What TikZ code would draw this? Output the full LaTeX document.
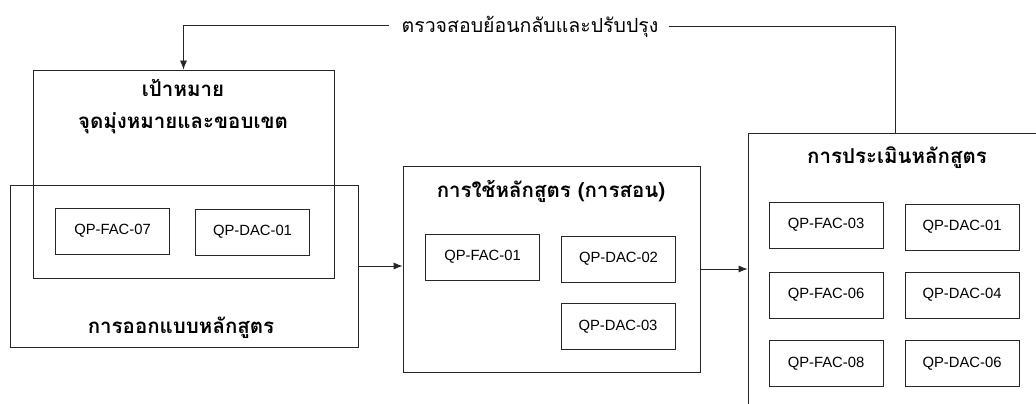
\documentclass[tikz,border=0pt]{standalone}
\usepackage{fontspec}
\setmainfont{Liberation Sans}
\newfontfamily\thaifont[Script=Thai]{Loma}
\usetikzlibrary{arrows.meta}
\begin{document}
\begin{tikzpicture}[x=1pt,y=-1pt,
  frame/.style={draw=black!85,line width=0.8pt,inner sep=0pt},
  qp/.style={draw=black!85,line width=0.8pt,minimum width=114pt,minimum height=46pt,inner sep=0pt,font=\fontsize{14.8}{17}\selectfont},
  ttl/.style={font=\thaifont\bfseries\fontsize{20.5}{24}\selectfont,inner sep=0pt},
  fbt/.style={font=\thaifont\fontsize{19.5}{23}\selectfont,inner sep=0pt},
  conn/.style={line width=0.8pt,draw=black!85},
  arr/.style={conn,-{Latex[length=9pt,width=7pt]}}]
\useasboundingbox (0,0) rectangle (1036,404);
\clip (0,0) rectangle (1036,404);
\fill[white] (0,0) rectangle (1036,404);
% frames
\node[frame,minimum width=348pt,minimum height=162pt] (design) at (184,266) {};
\node[frame,minimum width=301pt,minimum height=208pt] (goal) at (183.5,174) {};
\node[frame,minimum width=297pt,minimum height=206pt] (teach) at (551.5,269) {};
\node[frame,minimum width=310pt,minimum height=300pt] (eval) at (903,283) {};
% titles
\node[ttl] (goalT1) at (183,88) {เป้าหมาย};
\node[ttl] (goalT2) at (183,123) {จุดมุ่งหมายและขอบเขต};
\node[ttl] (designT) at (181,328) {การออกแบบหลักสูตร};
\node[ttl] (teachT) at (551,191) {การใช้หลักสูตร (การสอน)};
\node[ttl] (evalT) at (897,158) {การประเมินหลักสูตร};
% qp boxes
\node[qp] (a1) at (112.5,231) {QP-FAC-07};
\node[qp] (a2) at (252.5,232) {QP-DAC-01};
\node[qp] (b1) at (482.5,257) {QP-FAC-01};
\node[qp] (b2) at (618.5,259) {QP-DAC-02};
\node[qp] (b3) at (618,326.5) {QP-DAC-03};
\node[qp] (c1) at (826,225) {QP-FAC-03};
\node[qp] (c2) at (962,227) {QP-DAC-01};
\node[qp] (c3) at (826,295) {QP-FAC-06};
\node[qp] (c4) at (962,295) {QP-DAC-04};
\node[qp] (c5) at (826,363.5) {QP-FAC-08};
\node[qp] (c6) at (962,363.5) {QP-DAC-06};
% feedback
\node[fbt] (fb) at (530,27) {ตรวจสอบย้อนกลับและปรับปรุง};
\coordinate (fbL) at (183.5,25);
\coordinate (fbR) at (895,26);
\draw[arr] ([xshift=-12pt]fb.west |- fbL) -- (fbL) -- (goal.north);
\draw[conn] ([xshift=10pt]fb.east |- fbR) -- (fbR) -- (fbR |- eval.north);
% flow arrows
\draw[arr] (design.east) -- (design.east -| teach.west);
\draw[arr] (teach.east) -- (teach.east -| eval.west);
\end{tikzpicture}
\end{document}
